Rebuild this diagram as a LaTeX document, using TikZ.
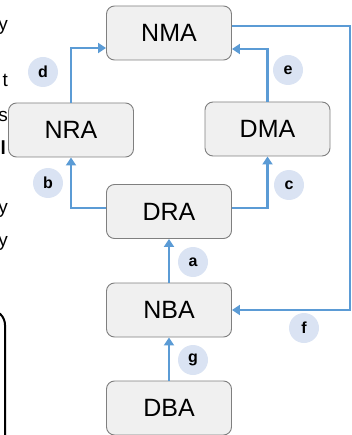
\documentclass[tikz,border=0pt]{standalone}
\usepackage{fontspec}
\setmainfont{Liberation Sans}
\usetikzlibrary{arrows.meta}
\definecolor{boxfill}{HTML}{F0F0F0}
\definecolor{boxdraw}{HTML}{7F7F7F}
\definecolor{arrowblue}{HTML}{5B9BD5}
\definecolor{tagfill}{HTML}{DAE3F3}
\tikzset{
  stage/.style={draw=boxdraw, line width=0.9pt, fill=boxfill, rounded corners=8pt,
    minimum width=125pt, minimum height=54pt, inner sep=0pt,
    font=\fontsize{25}{30}\selectfont},
  flow/.style={draw=arrowblue, line width=2.5pt, -{Triangle[length=8pt,width=10pt]}},
  tag/.style={circle, fill=tagfill, minimum size=30pt, inner sep=0pt,
    font=\fontsize{16}{18}\selectfont\bfseries},
  frag/.style={anchor=base east, inner sep=0pt, font=\fontsize{19}{22}\selectfont}
}
\begin{document}
\begin{tikzpicture}[x=1pt, y=-1pt]
\useasboundingbox (0,0) rectangle (352,435);
\begin{scope}
\clip (0,0) rectangle (352,435);
% cropped fragments at the left edge
\node[frag] (f1) at (8,31) {y};
\node[frag] (f2) at (8,87) {t};
\node[frag] (f3) at (8,122) {s};
\node[frag] (f4) at (6,155) {\bfseries l};
\node[frag] (f5) at (8,214) {y};
\node[frag] (f6) at (8,246) {y};
\draw[black, line width=2pt, rounded corners=15pt] (-40,310) -- (5,310) -- (5,460);

\node[stage] (NMA) at (169,33) {NMA};
\node[stage] (NRA) at (71,130) {NRA};
\node[stage] (DMA) at (267.5,129) {DMA};
\node[stage] (DRA) at (169,211.5) {DRA};
\node[stage] (NBA) at (169,310) {NBA};
\node[stage] (DBA) at (169,408) {DBA};

\coordinate (fR) at (350,26);

\draw[flow] ([yshift=3.5pt]DRA.west) -| (NRA.south);
\draw[flow] (NRA.north) |- ([yshift=-15pt]NMA.west);
\draw[flow] ([yshift=3.5pt]DRA.east) -| (DMA.south);
\draw[flow] (DMA.north) |- ([yshift=-16pt]NMA.east);
\draw[flow] ([yshift=7pt]NMA.east) -- (fR) |- (NBA.east);
\draw[flow] (NBA.north) -- (DRA.south);
\draw[flow] (DBA.north) -- (NBA.south);

\node[tag] (ta) at (193,262) {a};
\node[tag] (tb) at (48,183) {b};
\node[tag] (tc) at (289,185) {c};
\node[tag] (td) at (43,72) {d};
\node[tag] (te) at (288,70) {e};
\node[tag] (tf) at (304,328) {f};
\node[tag] (tg) at (193,360) {g};
\end{scope}
\end{tikzpicture}
\end{document}
